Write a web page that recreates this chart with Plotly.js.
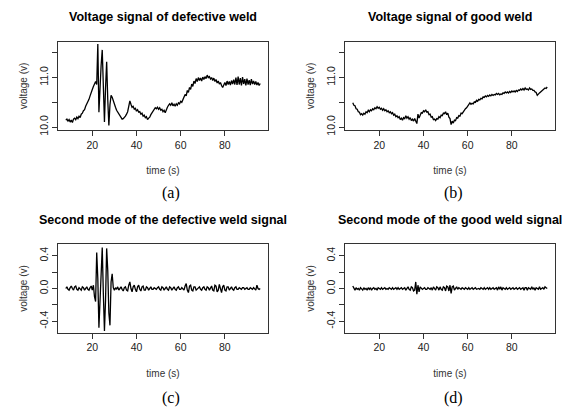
<!DOCTYPE html>
<html><head><meta charset="utf-8">
<script src="https://cdn.plot.ly/plotly-3.0.1.min.js"></script>
<style>html,body{margin:0;padding:0;background:#fff}#chart{width:563px;height:409px}</style>
</head><body><div id="chart"></div>
<script>
// sampling grid: 8 s to 96 s every 0.5 s
const tStart = 8, tStep = 0.5;

const defectiveVoltage = [
10.14,10.16,10.12,10.15,10.10,10.14,10.09,10.16,10.18,10.15,10.20,10.17,10.22,10.19,10.26,10.28,10.33,10.35,10.42,10.46,
10.52,10.56,10.63,10.68,10.76,10.82,10.88,10.92,10.86,11.68,10.30,10.85,11.25,11.56,10.50,10.10,10.80,11.32,10.55,10.03,
10.45,10.64,10.60,10.52,10.46,10.40,10.34,10.30,10.25,10.21,10.18,10.16,10.17,10.19,10.22,10.26,10.31,10.42,10.53,10.46,
10.40,10.42,10.36,10.38,10.32,10.35,10.30,10.31,10.26,10.28,10.22,10.24,10.19,10.21,10.15,10.18,10.20,10.25,10.28,10.33,
10.35,10.39,10.37,10.40,10.36,10.39,10.34,10.36,10.31,10.34,10.29,10.36,10.40,10.44,10.47,10.44,10.49,10.43,10.46,10.42,
10.47,10.44,10.49,10.47,10.52,10.50,10.57,10.60,10.66,10.63,10.74,10.70,10.80,10.76,10.87,10.82,10.93,10.88,10.98,10.92,
11.00,10.94,10.99,10.93,11.01,10.96,11.02,10.98,11.05,11.00,11.02,10.97,11.00,10.94,10.99,10.92,10.96,10.89,10.93,10.87,
10.90,10.84,10.80,10.85,10.90,10.84,10.93,10.86,10.92,10.85,10.94,10.87,10.96,10.86,11.00,10.85,11.02,10.86,10.99,10.84,
11.01,10.87,10.97,10.84,10.98,10.86,10.95,10.85,10.97,10.87,10.93,10.86,10.92,10.85,10.90,10.84,10.88];

const goodVoltage = [
10.49,10.44,10.43,10.37,10.36,10.31,10.30,10.25,10.27,10.24,10.28,10.26,10.31,10.29,10.34,10.31,10.35,10.33,10.37,10.35,
10.39,10.37,10.41,10.38,10.40,10.36,10.38,10.34,10.37,10.33,10.35,10.31,10.33,10.29,10.31,10.27,10.29,10.24,10.26,10.21,
10.23,10.19,10.21,10.15,10.18,10.14,10.19,10.17,10.23,10.18,10.21,10.16,10.19,10.13,10.16,10.12,10.17,10.10,10.07,10.26,
10.18,10.24,10.29,10.28,10.33,10.31,10.35,10.30,10.31,10.25,10.26,10.20,10.21,10.15,10.16,10.13,10.17,10.16,10.21,10.19,
10.24,10.23,10.28,10.27,10.31,10.25,10.28,10.20,10.17,10.05,10.12,10.08,10.14,10.13,10.19,10.18,10.23,10.22,10.28,10.27,
10.31,10.33,10.37,10.39,10.43,10.45,10.49,10.46,10.48,10.47,10.51,10.50,10.54,10.52,10.56,10.55,10.58,10.57,10.61,10.60,
10.63,10.61,10.64,10.62,10.65,10.63,10.66,10.64,10.66,10.65,10.68,10.66,10.68,10.65,10.67,10.66,10.69,10.68,10.71,10.69,
10.71,10.69,10.72,10.70,10.73,10.71,10.73,10.71,10.74,10.72,10.75,10.74,10.77,10.75,10.78,10.75,10.79,10.76,10.77,10.75,
10.79,10.76,10.77,10.74,10.74,10.71,10.70,10.64,10.68,10.69,10.71,10.73,10.75,10.76,10.79,10.78,10.81];

const defectiveMode2 = [
0.00,0.02,-0.01,-0.02,0.01,0.03,0.00,-0.02,0.02,0.03,-0.01,-0.02,0.01,-0.01,-0.02,0.02,0.01,-0.02,0.00,0.02,
-0.01,-0.02,0.01,0.03,-0.02,0.04,-0.10,-0.16,0.44,0.12,-0.48,-0.12,0.30,0.50,-0.06,-0.52,-0.14,0.49,0.22,-0.30,
-0.45,0.08,0.18,0.01,-0.02,0.01,-0.01,0.02,-0.02,0.00,0.02,-0.01,-0.03,0.01,0.02,-0.02,-0.03,0.04,0.08,0.00,
-0.04,0.02,0.04,-0.01,-0.04,0.02,0.04,-0.01,-0.03,0.02,0.03,-0.02,-0.02,0.02,0.01,-0.02,0.00,0.02,-0.01,-0.01,
0.01,0.00,-0.01,0.01,0.02,-0.01,-0.02,0.02,0.01,-0.02,0.01,0.02,-0.01,-0.02,0.02,0.01,-0.02,0.00,0.02,-0.01,
-0.02,0.01,0.02,-0.01,-0.01,0.01,-0.01,-0.02,0.03,0.06,-0.02,-0.05,0.03,0.04,-0.02,-0.03,0.02,0.02,-0.02,-0.01,
0.01,0.02,-0.01,-0.02,0.01,0.02,-0.01,-0.02,0.02,0.01,-0.02,0.00,0.03,-0.02,-0.03,0.04,0.03,-0.04,-0.02,0.05,
-0.01,-0.05,0.02,0.04,-0.02,-0.03,0.02,0.02,-0.02,0.00,0.02,-0.01,-0.02,0.01,0.02,-0.01,-0.01,0.01,0.00,-0.01,
0.01,0.01,-0.01,0.00,0.01,-0.01,-0.01,0.01,0.00,-0.01,0.01,0.00,-0.02,0.04,0.00,-0.01,0.00];

const goodMode2 = [
0.03,0.00,-0.02,0.01,-0.01,0.00,-0.02,0.01,-0.01,-0.02,0.01,-0.01,0.00,-0.02,0.01,-0.01,0.01,-0.02,0.00,0.01,
-0.01,0.00,-0.02,0.01,0.00,-0.01,0.01,-0.01,0.00,0.01,-0.01,0.00,-0.01,0.01,0.00,-0.01,0.01,-0.01,0.00,0.01,
-0.01,0.01,-0.01,0.00,0.01,-0.01,0.00,0.01,-0.02,0.01,0.02,-0.01,-0.02,0.02,0.01,-0.03,-0.02,0.08,-0.07,0.04,
-0.04,0.02,0.01,-0.01,0.00,0.01,-0.01,-0.01,0.01,0.00,-0.01,0.01,-0.02,0.02,0.00,-0.02,0.02,0.01,-0.02,0.02,
-0.01,-0.02,0.02,0.01,-0.03,0.03,0.02,-0.03,0.04,-0.06,0.02,0.03,-0.02,0.01,0.02,-0.01,0.01,0.00,-0.01,0.01,
0.00,-0.01,0.01,0.00,-0.01,0.01,-0.01,0.00,0.01,-0.01,0.00,0.01,-0.01,0.00,0.00,-0.01,0.01,0.00,-0.01,0.01,
-0.01,0.00,0.01,-0.01,0.01,-0.01,0.00,0.01,-0.01,0.00,0.01,-0.02,0.02,-0.01,0.02,-0.02,0.01,0.00,-0.01,0.01,
-0.01,0.00,0.01,-0.01,0.00,0.01,-0.01,0.00,0.01,-0.01,0.00,0.01,-0.01,0.00,0.01,-0.02,0.01,0.01,-0.02,0.01,
0.00,-0.01,0.02,-0.01,0.01,-0.02,0.01,0.00,-0.01,0.02,-0.01,0.00,0.01,-0.01,0.02,0.01,0.00];

const panelTitles = ["Voltage signal of defective weld","Voltage signal of good weld",
  "Second mode of the defective weld signal","Second mode of the good weld signal"];
const panelTags = ["(a)","(b)","(c)","(d)"];
const xTickVals = [20,40,60,80];
const voltTickVals = [10.0,10.5,11.0,11.5];
const voltTickText = ["10.0","","11.0",""];
const modeTickVals = [-0.4,-0.2,0.0,0.2,0.4];
const modeTickText = ["-0.4","","0.0","","0.4"];
const xLabel = "time (s)", yLabel = "voltage (v)";

const time = defectiveVoltage.map((_, i) => tStart + i * tStep);
const series = [defectiveVoltage, goodVoltage, defectiveMode2, goodMode2];

const W = 563, H = 409;
const xDom = [[58/W, 268/W],[345/W, 555/W]];
const yDom = [[1-130/H, 1-42/H],[1-332.7/H, 1-244.3/H]];

const traces = series.map((s, i) => ({
  x: time, y: s, type: 'scatter', mode: 'lines',
  line: {color: '#000', width: 1.3},
  xaxis: 'x' + (i ? i+1 : ''), yaxis: 'y' + (i ? i+1 : ''),
  showlegend: false, hoverinfo: 'skip'
}));

const tickFont = {family: 'Liberation Sans, Arial, sans-serif', size: 10.5, color: '#222'};
const titleFont = {family: 'Liberation Sans, Arial, sans-serif', size: 10, color: '#333'};
const layout = {
  width: W, height: H, margin: {l:0, r:0, t:0, b:0},
  paper_bgcolor: '#fff', plot_bgcolor: '#fff', showlegend: false,
  annotations: [], font: tickFont
};
for (let i = 0; i < 4; i++) {
  const col = i % 2, row = Math.floor(i / 2);
  const sfx = i ? String(i+1) : '';
  layout['xaxis' + sfx] = {
    domain: xDom[col], anchor: 'y' + sfx, range: [4.48, 99.52],
    tickvals: xTickVals, ticks: 'outside', ticklen: 5, tickwidth: 1, tickcolor: '#333',
    showline: true, mirror: true, linecolor: '#333', linewidth: 1,
    showgrid: false, zeroline: false, tickfont: tickFont,
    title: {text: xLabel, font: titleFont, standoff: 17}
  };
  layout['yaxis' + sfx] = {
    domain: yDom[row], anchor: 'x' + sfx,
    range: row === 0 ? [9.94, 11.72] : [-0.54, 0.54],
    tickvals: row === 0 ? voltTickVals : modeTickVals,
    ticktext: row === 0 ? voltTickText : modeTickText,
    tickangle: -90, ticks: 'outside', ticklen: 5, tickwidth: 1, tickcolor: '#333',
    showline: true, mirror: true, linecolor: '#333', linewidth: 1,
    showgrid: false, zeroline: false, tickfont: tickFont,
    title: {text: yLabel, font: titleFont, standoff: 8}
  };
  const cx = (xDom[col][0] + xDom[col][1]) / 2;
  layout.annotations.push({
    text: '<b>' + panelTitles[i] + '</b>', xref: 'paper', yref: 'paper',
    x: cx, y: 1 - (row === 0 ? 17 : 220) / H, xanchor: 'center', yanchor: 'middle',
    showarrow: false, font: {family: 'Liberation Sans, Arial, sans-serif', size: 12.5, color: '#000'}
  });
  layout.annotations.push({
    text: panelTags[i], xref: 'paper', yref: 'paper',
    x: (col === 0 ? 171 : 453) / W, y: 1 - (row === 0 ? 193 : 398) / H,
    xanchor: 'center', yanchor: 'middle', showarrow: false,
    font: {family: 'Liberation Serif, Times New Roman, serif', size: 16, color: '#000'}
  });
}
Plotly.newPlot('chart', traces, layout, {displayModeBar: false, staticPlot: true});
</script></body></html>
